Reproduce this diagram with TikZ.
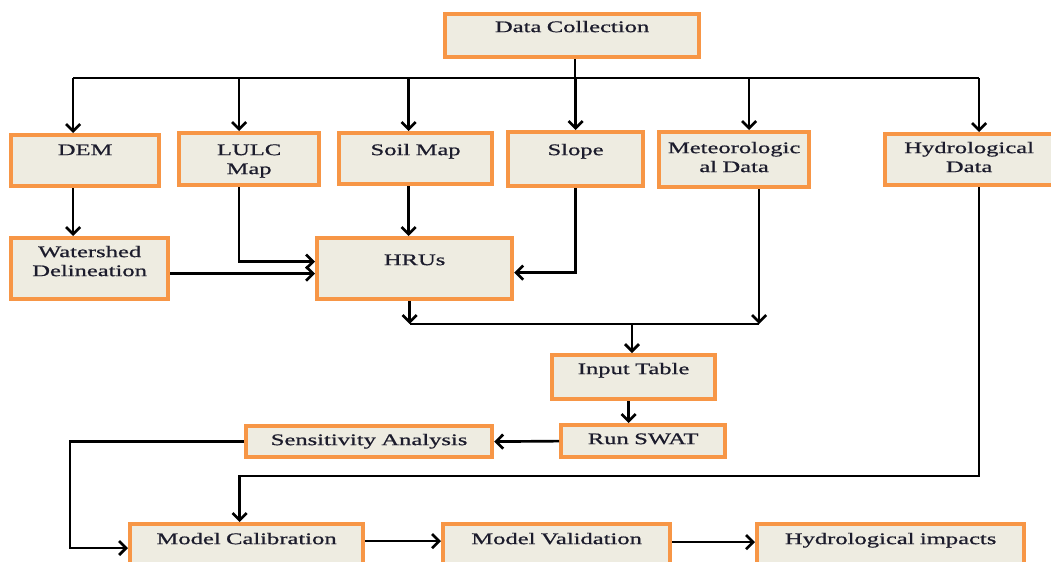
\documentclass[tikz,border=0pt]{standalone}
\usepackage{fontspec}
\setmainfont{Liberation Serif}[FakeStretch=1.52,FakeBold=0.8]
\usetikzlibrary{arrows.meta,calc}
\definecolor{boxline}{HTML}{F79646}
\definecolor{boxfill}{HTML}{EEECE1}
\definecolor{ink}{HTML}{1C1C2C}
\newlength\unitpx\setlength\unitpx{0.025cm}
\tikzset{box/.style={draw=boxline,fill=boxfill,line width=3pt,inner sep=0pt,anchor=north west,align=center,text=ink,font=\fontsize{11.5}{13.5}\selectfont},
link/.style={line width=1.9pt},
flow/.style={link,-{Straight Barb[length=5pt,width=10pt]}}}

\begin{document}
\begin{tikzpicture}[x=0.025cm,y=-0.025cm]
\useasboundingbox (0,0) rectangle (1051,561);
\node[box,text width=254\unitpx,text height=18\unitpx,text depth=25\unitpx] (dc) at (443,12) {Data Collection};
\node[box,text width=148\unitpx,text height=20\unitpx,text depth=31\unitpx] (dem) at (9,133) {DEM};
\node[box,text width=140\unitpx,text height=22\unitpx,text depth=30\unitpx] (lulc) at (177,131) {LULC\\Map};
\node[box,text width=153\unitpx,text height=22\unitpx,text depth=29\unitpx] (soil) at (337,131) {Soil Map};
\node[box,text width=135\unitpx,text height=23\unitpx,text depth=31\unitpx] (slope) at (506,130) {Slope};
\node[box,text width=150\unitpx,text height=21\unitpx,text depth=34\unitpx] (met) at (657,130) {Meteorologic\\al Data};
\node[box,text width=168\unitpx,text height=19\unitpx,text depth=32\unitpx] (hyd) at (883,132) {Hydrological\\Data};
\node[box,text width=157\unitpx,text height=19\unitpx,text depth=42\unitpx] (ws) at (9,236) {Watershed\\Delineation};
\node[box,text width=195\unitpx,text height=27\unitpx,text depth=34\unitpx] (hru) at (315,236) {HRUs};
\node[box,text width=163\unitpx,text height=19\unitpx,text depth=25\unitpx] (inp) at (550,353) {Input Table};
\node[box,text width=164\unitpx,text height=19\unitpx,text depth=13\unitpx] (run) at (559,423) {Run SWAT};
\node[box,text width=246\unitpx,text height=19\unitpx,text depth=12\unitpx] (sens) at (244,424) {Sensitivity Analysis};
\node[box,text width=233\unitpx,text height=20\unitpx,text depth=26\unitpx] (cal) at (128,522) {Model Calibration};
\node[box,text width=227\unitpx,text height=20\unitpx,text depth=26\unitpx] (val) at (441,522) {Model Validation};
\node[box,text width=267\unitpx,text height=20\unitpx,text depth=26\unitpx] (imp) at (755,522) {Hydrological impacts};
\coordinate (bus) at (0,78);\coordinate (mrg) at (632,324);\coordinate (lft) at (70,548);\coordinate (ret) at (0,476);
\draw[link] ([xshift=3\unitpx]dc.south) -- ([xshift=3\unitpx]dc.south |- bus);
\draw[link] ([xshift=-12\unitpx]dem.north |- bus) -- ([xshift=10\unitpx]hyd.north |- bus);
\foreach \n/\dx in {dem/-12,lulc/-10,soil/-7,slope/0,met/15,hyd/10}
  \draw[flow] ([xshift=\dx\unitpx]\n.north |- bus) -- ([xshift=\dx\unitpx]\n.north);
\draw[flow] ([xshift=-12\unitpx]dem.south) -- ([xshift=-12\unitpx]dem.south |- ws.north);
\draw[flow] ([xshift=-10\unitpx]lulc.south) |- ([yshift=7\unitpx]hru.west);
\draw[flow] ([yshift=-5\unitpx]ws.east) -- ([yshift=-5\unitpx]ws.east -| hru.west);
\draw[flow] ([xshift=-7\unitpx]soil.south) -- ([xshift=-7\unitpx]soil.south |- hru.north);
\draw[flow] (slope.south) |- ([yshift=-4\unitpx]hru.east);
\draw[flow] ([xshift=-5\unitpx]hru.south) -- ([xshift=-5\unitpx]hru.south |- mrg);
\draw[link] ([xshift=-5\unitpx]hru.south |- mrg) -- ([xshift=25\unitpx]met.south |- mrg);
\draw[flow] ([xshift=25\unitpx]met.south) -- ([xshift=25\unitpx]met.south |- mrg);
\draw[flow] (mrg) -- (mrg |- inp.north);
\draw[flow] ([xshift=-5\unitpx]inp.south) -- ([xshift=-5\unitpx]inp.south |- run.north);
\draw[flow] (run.west) -- (sens.east);
\draw[flow] (sens.west) -| (lft) -- (lft -| cal.west);
\draw[flow] ([xshift=10\unitpx]hyd.south) |- ([xshift=-7\unitpx]cal.north |- ret) -- ([xshift=-7\unitpx]cal.north);
\draw[flow] ([yshift=6\unitpx]cal.east) -- ([yshift=6\unitpx]cal.east -| val.west);
\draw[flow] ([yshift=5\unitpx]val.east) -- ([yshift=5\unitpx]val.east -| imp.west);
\end{tikzpicture}
\end{document}
